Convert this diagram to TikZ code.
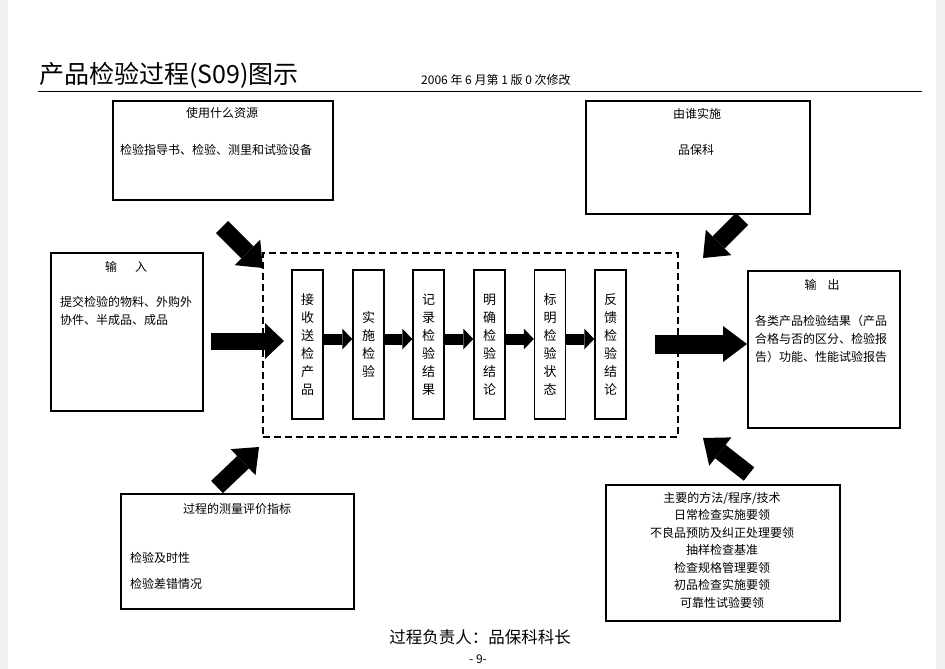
\documentclass[tikz,border=0pt]{standalone}
\usepackage{fontspec}
\setmainfont{Noto Sans CJK SC}
\usetikzlibrary{arrows.meta}
\begin{document}
\begin{tikzpicture}[x=1pt,y=-1pt,
  box/.style={draw=black,line width=1.5pt,fill=white,anchor=north west,inner sep=0pt},
  pbox/.style={draw=black,line width=1.5pt,fill=white,minimum width=31pt,minimum height=149pt,inner sep=0pt,align=center,font=\fontsize{13}{18}\selectfont},
  lbl/.style={font=\fontsize{12}{17.5}\selectfont,inner sep=0pt},
  smallarr/.style={line width=11pt,-{Triangle[length=10pt,width=21pt,line width=0pt]}},
  diagarr/.style={line width=17pt,-{Triangle[length=22pt,width=36pt,line width=0pt]}},
  inarr/.style={line width=17pt,-{Triangle[length=19pt,width=36pt,line width=0pt]}},
  outarr/.style={line width=19pt,-{Triangle[length=24pt,width=36pt,line width=0pt]}}]
\useasboundingbox (0,0) rectangle (945,669);
\fill[black!6] (0,0) rectangle (8,669);
\fill[black!6] (936,0) rectangle (945,669);

% header
\node[inner sep=0pt,anchor=west,font=\fontsize{25}{25}\selectfont] (title) at (39,75) {产品检验过程(S09)图示};
\node[inner sep=0pt,anchor=west,font=\fontsize{12}{12}\selectfont] (sub) at (421,80) {2006 年 6 月第 1 版 0 次修改};
\coordinate (hl) at (38,91);
\coordinate (hr) at (922,91);
\draw[line width=1pt] (hl) -- (hr);

% resource box
\node[box,minimum width=220pt,minimum height=99pt] (res) at (112,100) {};
\node[lbl] (resT) at (222,113) {使用什么资源};
\node[lbl,anchor=west] (resX) at (120,150) {检验指导书、检验、测里和试验设备};

% who box
\node[box,minimum width=224pt,minimum height=113pt] (who) at (585,100) {};
\node[lbl] (whoT) at (697,114) {由谁实施};
\node[lbl] (whoX) at (696,150) {品保科};

% input box
\node[box,minimum width=152pt,minimum height=158pt] (inb) at (50,252) {};
\node[lbl] (inT) at (126,267) {输\hspace{18pt}入};
\node[lbl,anchor=west] (inX1) at (60,302) {提交检验的物料、外购外};
\node[lbl,anchor=west] (inX2) at (60,320) {协件、半成品、成品};

% output box
\node[box,minimum width=152pt,minimum height=157pt] (outb) at (747,270) {};
\node[lbl] (outT) at (822,285) {输\hspace{11pt}出};
\node[lbl,anchor=west] (outX1) at (755,321) {各类产品检验结果（产品};
\node[lbl,anchor=west] (outX2) at (755,339) {合格与否的区分、检验报};
\node[lbl,anchor=west] (outX3) at (755,357) {告）功能、性能试验报告};

% measurement box
\node[box,minimum width=233pt,minimum height=115pt] (mea) at (120,493) {};
\node[lbl] (meaT) at (237,509) {过程的测量评价指标};
\node[lbl,anchor=west] (meaX1) at (130,558) {检验及时性};
\node[lbl,anchor=west] (meaX2) at (130,584) {检验差错情况};

% methods box
\node[box,minimum width=234pt,minimum height=136pt] (met) at (605,484) {};
\node[lbl,align=center,anchor=north,font=\fontsize{12}{17.5}\selectfont] (metX) at (722,492)
  {主要的方法/程序/技术\\日常检查实施要领\\不良品预防及纠正处理要领\\抽样检查基准\\检查规格管理要领\\初品检查实施要领\\可靠性试验要领};

% dashed process frame
\node[draw=black,line width=1.5pt,dash pattern=on 7pt off 4pt,anchor=north west,minimum width=415pt,minimum height=184pt,inner sep=0pt] (frame) at (262,252) {};

% process boxes
\node[pbox] (p1) at (307.5,344.5) {接\\收\\送\\检\\产\\品};
\node[pbox] (p2) at (368.5,344.5) {实\\施\\检\\验};
\node[pbox] (p3) at (428.5,344.5) {记\\录\\检\\验\\结\\果};
\node[pbox] (p4) at (489.5,344.5) {明\\确\\检\\验\\结\\论};
\node[pbox] (p5) at (550,344.5) {标\\明\\检\\验\\状\\态};
\node[pbox] (p6) at (610.5,344.5) {反\\馈\\检\\验\\结\\论};

\draw[smallarr] ([yshift=5.5pt]p1.east) -- ([yshift=5.5pt]p2.west);
\draw[smallarr] ([yshift=5.5pt]p2.east) -- ([yshift=5.5pt]p3.west);
\draw[smallarr] ([yshift=5.5pt]p3.east) -- ([yshift=5.5pt]p4.west);
\draw[smallarr] ([yshift=5.5pt]p4.east) -- ([yshift=5.5pt]p5.west);
\draw[smallarr] ([yshift=5.5pt]p5.east) -- ([yshift=5.5pt]p6.west);

% input / output arrows
\coordinate (inS) at (211,341);
\coordinate (inE) at (284,341);
\draw[inarr] (inS) -- (inE);
\coordinate (outS) at (655,344);
\coordinate (outE) at (747,344);
\draw[outarr] (outS) -- (outE);

% diagonal arrows
\coordinate (d1s) at (222,227);
\coordinate (d1e) at (263,268);
\draw[diagarr] (d1s) -- (d1e);
\coordinate (d2s) at (742,219);
\coordinate (d2e) at (703,258);
\draw[diagarr] (d2s) -- (d2e);
\coordinate (d3s) at (217,487);
\coordinate (d3e) at (259,447);
\draw[diagarr] (d3s) -- (d3e);
\coordinate (d4s) at (749,474);
\coordinate (d4e) at (703,438);
\draw[diagarr] (d4s) -- (d4e);

% footer
\node[inner sep=0pt,font=\fontsize{16.5}{16.5}\selectfont] (foot) at (480,637) {过程负责人：品保科科长};
\node[inner sep=0pt,font=\fontsize{12}{12}\selectfont] (page) at (478,659) {- 9-};
\end{tikzpicture}
\end{document}
